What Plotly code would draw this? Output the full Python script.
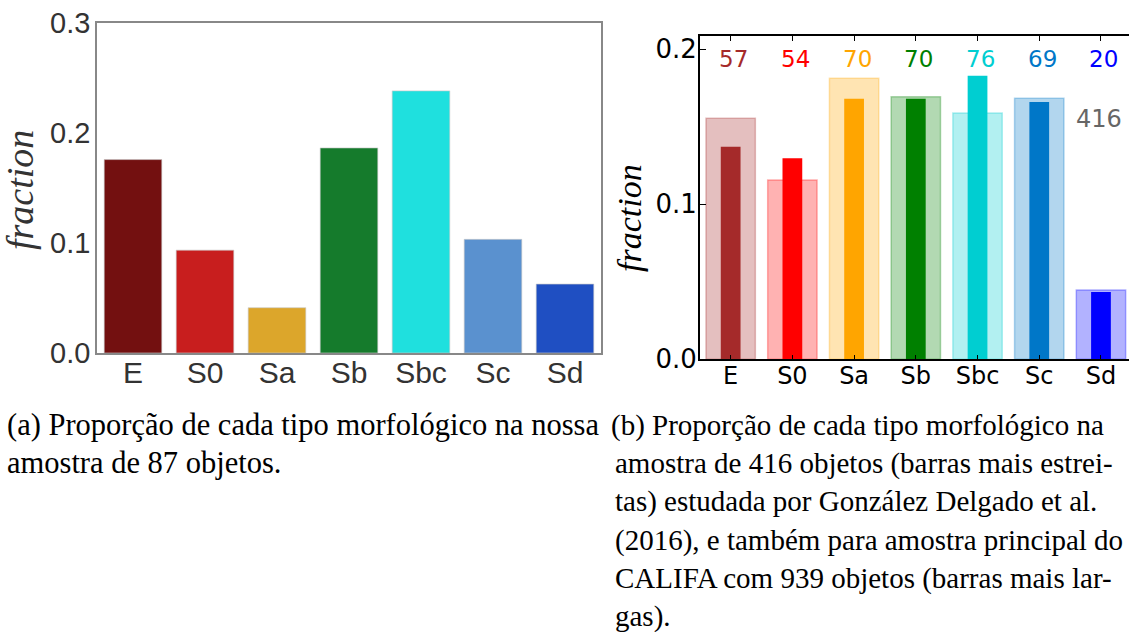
import plotly.graph_objects as go

W, H = 1129, 632

categories = ["E", "S0", "Sa", "Sb", "Sbc", "Sc", "Sd"]

# (a) our sample of 87 objects
frac_ours = [0.176, 0.0936, 0.0412, 0.1866, 0.2385, 0.1034, 0.0627]
colors_ours = ["#731010", "#c81e1e", "#dca62b", "#157b2c", "#1fe0de", "#5a91cf", "#1f4fc2"]

# (b) CALIFA main sample (939, wide bars) and González Delgado et al. 2016 (416, narrow bars)
frac_califa = [0.1555, 0.1157, 0.1813, 0.1694, 0.1589, 0.1684, 0.0447]
frac_gd = [0.1372, 0.1297, 0.1681, 0.1681, 0.1830, 0.1660, 0.0434]
counts_gd = [57, 54, 70, 70, 76, 69, 20]
total_gd = 416
colors_b = [(165, 42, 42), (255, 0, 0), (255, 165, 0), (0, 128, 0),
            (0, 206, 209), (0, 119, 200), (0, 0, 255)]

yticks_a = [0.0, 0.1, 0.2, 0.3]
yticks_b = [0.0, 0.1, 0.2]

caption_a = ["(a) Proporção de cada tipo morfológico na nossa",
             "amostra de 87 objetos."]
caption_b = ["(b) Proporção de cada tipo morfológico na",
             "amostra de 416 objetos (barras mais estrei-",
             "tas) estudada por González Delgado et al.",
             "(2016), e também para amostra principal do",
             "CALIFA com 939 objetos (barras mais lar-",
             "gas)."]


def px_x(p):
    return p / W


def px_y(p):
    return 1 - p / H


def rgba(c, a):
    return f"rgba({c[0]},{c[1]},{c[2]},{a})"


fig = go.Figure()

fig.add_trace(go.Bar(
    x=categories, y=frac_ours, width=0.8,
    marker=dict(color=colors_ours, line=dict(color="rgba(200,200,200,0.8)", width=0.8)),
    xaxis="x", yaxis="y", showlegend=False,
))

fig.add_trace(go.Bar(
    x=categories, y=frac_califa, width=0.8,
    marker=dict(color=[rgba(c, 0.3) for c in colors_b],
                line=dict(color=[rgba(c, 0.3) for c in colors_b], width=1.5)),
    xaxis="x2", yaxis="y2", showlegend=False,
))
fig.add_trace(go.Bar(
    x=categories, y=frac_gd, width=0.32,
    marker=dict(color=[rgba(c, 1) for c in colors_b], line=dict(width=0)),
    xaxis="x2", yaxis="y2", showlegend=False,
))

annotations = []
count_level = 0.194
for cat, n, c in zip(categories, counts_gd, colors_b):
    annotations.append(dict(
        x=cat, y=count_level, xref="x2", yref="y2", text=str(n), showarrow=False,
        xshift=3, xanchor="center", yanchor="middle",
        font=dict(family="DejaVu Sans", size=23, color=rgba(c, 1)),
    ))
annotations.append(dict(
    x=5.97, y=0.155, xref="x2", yref="y2", text=str(total_gd), showarrow=False,
    xanchor="center", yanchor="middle",
    font=dict(family="DejaVu Sans", size=24, color="#666666"),
))

# y-axis titles
annotations.append(dict(
    x=px_x(20), y=px_y(190), xref="paper", yref="paper", text="fraction",
    textangle=-90, showarrow=False, xanchor="center", yanchor="middle",
    font=dict(family="Liberation Serif", size=38, color="#333333", style="italic"),
))
annotations.append(dict(
    x=px_x(629), y=px_y(218), xref="paper", yref="paper", text="fraction",
    textangle=-90, showarrow=False, xanchor="center", yanchor="middle",
    font=dict(family="Liberation Serif", size=34, color="#000000", style="italic"),
))

# captions
line_y = [425, 463, 501, 540, 578, 616]
for i, line in enumerate(caption_a):
    annotations.append(dict(
        x=px_x(5), y=px_y(line_y[i]), xref="paper", yref="paper", text=line,
        xanchor="left", yanchor="middle", showarrow=False,
        font=dict(family="Liberation Serif", size=30.5, color="#000000"),
    ))
for i, line in enumerate(caption_b):
    annotations.append(dict(
        x=px_x(609 if i == 0 else 613), y=px_y(line_y[i]), xref="paper", yref="paper",
        text=line, xanchor="left", yanchor="middle", showarrow=False,
        font=dict(family="Liberation Serif", size=29, color="#000000"),
    ))

fig.update_layout(
    width=W, height=H,
    margin=dict(l=0, r=0, t=0, b=0, autoexpand=False),
    paper_bgcolor="white", plot_bgcolor="white",
    barmode="overlay",
    annotations=annotations,
    xaxis=dict(
        domain=[px_x(97), px_x(601)], range=[-0.5, 6.5], type="category",
        showline=True, linecolor="#888888", linewidth=1.5, mirror=True,
        showgrid=False, ticks="", zeroline=False, automargin=False,
        ticklabelstandoff=-8,
        tickfont=dict(family="Liberation Sans", size=30, color="#333333"),
        anchor="y",
    ),
    yaxis=dict(
        domain=[px_y(353), px_y(23.3)], range=[0, 0.3],
        tickvals=yticks_a, ticktext=[f"{v:.1f}" for v in yticks_a],
        showline=True, linecolor="#888888", linewidth=1.5, mirror=True,
        showgrid=False, ticks="", zeroline=False, ticklabelstandoff=-1,
        automargin=False,
        tickfont=dict(family="Liberation Sans", size=29, color="#333333"),
        anchor="x",
    ),
    xaxis2=dict(
        domain=[px_x(699.8), 1.0], range=[-0.5, 6.454], type="category",
        showline=True, linecolor="black", linewidth=1.5, mirror="ticks",
        showgrid=False, ticks="inside", ticklen=5, tickwidth=1, tickcolor="black",
        zeroline=False, automargin=False, ticklabelstandoff=-6,
        tickfont=dict(family="DejaVu Sans", size=24, color="black"),
        anchor="y2",
    ),
    yaxis2=dict(
        domain=[px_y(359.3), px_y(36)], range=[0, 0.2086],
        tickvals=yticks_b, ticktext=[f"{v:.1f}" for v in yticks_b],
        showline=True, linecolor="black", linewidth=1.5, mirror=False,
        showgrid=False, ticks="inside", ticklen=6, tickwidth=1, tickcolor="black",
        zeroline=False, automargin=False, ticklabelstandoff=-4,
        tickfont=dict(family="DejaVu Sans", size=26, color="black"),
        anchor="x2",
    ),
)

fig.write_html("out.html", config={"displayModeBar": False},
               post_script="document.body.style.margin='0';")
